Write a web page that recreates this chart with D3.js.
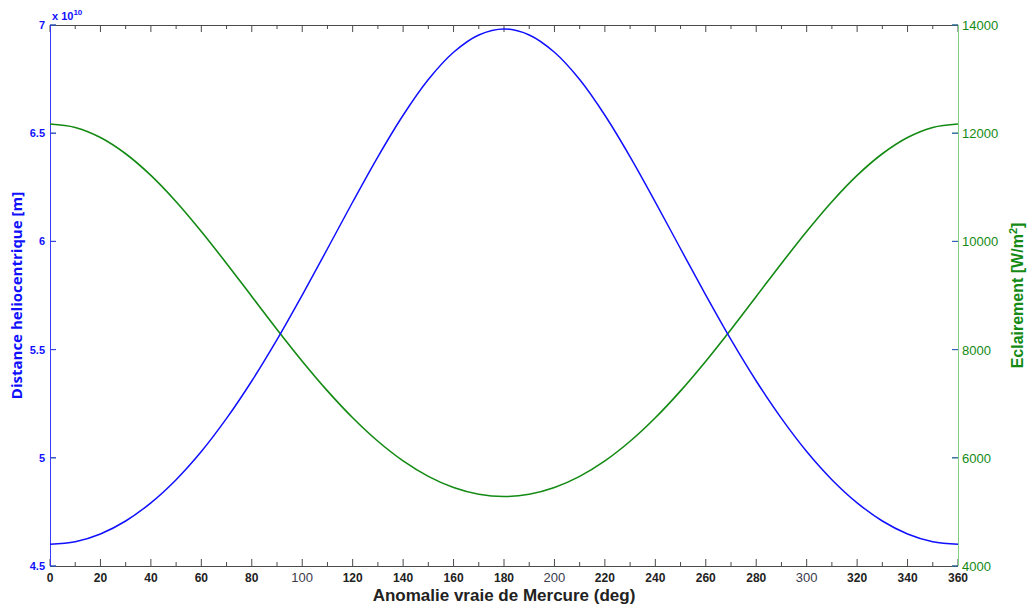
<!DOCTYPE html>
<html><head><meta charset="utf-8">
<script src="https://cdn.jsdelivr.net/npm/d3@7"></script>
<style>body{margin:0;background:#fff}svg{display:block}text{font-family:"Liberation Sans",Arial,sans-serif}</style>
</head><body><svg id="c" width="1027" height="607"></svg>
<script>
// True anomaly (deg)
const anomaly = [0,10,20,30,40,50,60,70,80,90,100,110,120,130,140,150,160,170,180,
  190,200,210,220,230,240,250,260,270,280,290,300,310,320,330,340,350,360];
// Heliocentric distance (x 1e10 m)
const distance = [4.600,4.612,4.648,4.708,4.792,4.899,5.029,5.182,5.355,5.546,5.752,5.966,6.182,6.391,6.583,6.748,6.874,6.954,6.982,
  6.954,6.874,6.748,6.583,6.391,6.182,5.966,5.752,5.546,5.355,5.182,5.029,4.899,4.792,4.708,4.648,4.612,4.600];
// Irradiance (W/m^2)
const irradiance = [12170,12107,11921,11620,11219,10733,10183,9592,8982,8373,7786,7237,6740,6306,5943,5657,5450,5326,5284,
  5326,5450,5657,5943,6306,6740,7237,7786,8373,8982,9592,10183,10733,11219,11620,11921,12107,12170];
const xTicks = d3.range(0, 361, 20);
const xMinor = d3.range(10, 360, 20);
const leftTicks = [4.5,5,5.5,6,6.5,7];
const rightTicks = [4000,6000,8000,10000,12000,14000];

const L=50,R=958,T=25,B=566;
const svg=d3.select("#c");
const x=d3.scaleLinear().domain([0,360]).range([L,R]);
const yL=d3.scaleLinear().domain([4.5,7]).range([B,T]);
const yR=d3.scaleLinear().domain([4000,14000]).range([B,T]);
const axisCol="#4a4a4a", blue="#1010ff", green="#138a13";

// x ticks bottom and top (inward)
const g=svg.append("g");
xTicks.forEach(v=>{
  g.append("line").attr("x1",x(v)).attr("x2",x(v)).attr("y1",B).attr("y2",B-7).attr("stroke",axisCol);
  g.append("line").attr("x1",x(v)).attr("x2",x(v)).attr("y1",T).attr("y2",T+7).attr("stroke",axisCol);
});
xMinor.forEach(v=>{
  g.append("line").attr("x1",x(v)).attr("x2",x(v)).attr("y1",B).attr("y2",B-4).attr("stroke",axisCol);
  g.append("line").attr("x1",x(v)).attr("x2",x(v)).attr("y1",T).attr("y2",T+4).attr("stroke",axisCol);
});
g.append("line").attr("x1",L).attr("x2",R).attr("y1",B+0.5).attr("y2",B+0.5).attr("stroke",axisCol);
g.append("line").attr("x1",L).attr("x2",R).attr("y1",T+0.5).attr("y2",T+0.5).attr("stroke",axisCol);

// x tick labels
xTicks.forEach(v=>{
  const plain = (v===100||v===200||v===300);
  g.append("text").attr("x",x(v)).attr("y",B+16).attr("text-anchor","middle")
   .attr("font-size",plain?13:12).attr("font-weight",plain?"normal":"bold")
   .attr("fill",plain?"#3a3a4a":"#222").text(v);
});

// right axis (green)
g.append("line").attr("x1",R+0.5).attr("x2",R+0.5).attr("y1",T).attr("y2",B).attr("stroke","#7fd07f");
rightTicks.forEach(v=>{
  g.append("line").attr("x1",R).attr("x2",R-6).attr("y1",yR(v)).attr("y2",yR(v)).attr("stroke",green);
  g.append("line").attr("x1",L).attr("x2",L+6).attr("y1",yR(v)).attr("y2",yR(v)).attr("stroke",green);
  g.append("text").attr("x",R+4).attr("y",yR(v)+5).attr("font-size",13).attr("fill",green).text(v);
});

// left axis (blue)
g.append("line").attr("x1",L+0.5).attr("x2",L+0.5).attr("y1",T).attr("y2",B).attr("stroke","#3a3aff");
leftTicks.forEach(v=>{
  g.append("line").attr("x1",L).attr("x2",L+6).attr("y1",yL(v)).attr("y2",yL(v)).attr("stroke","#3a3aff");
  g.append("line").attr("x1",R).attr("x2",R-6).attr("y1",yL(v)).attr("y2",yL(v)).attr("stroke","#3a5ad0");
  g.append("text").attr("x",L-5).attr("y",yL(v)+4).attr("text-anchor","end").attr("font-size",11)
   .attr("font-weight","bold").attr("fill",blue).text(v);
});
const ex=g.append("text").attr("x",L+2).attr("y",T-5).attr("font-size",11).attr("font-weight","bold").attr("fill",blue);
ex.append("tspan").text("x 10");
ex.append("tspan").attr("dy",-5).attr("font-size",8).text("10");

// lines
const lineL=d3.line().x((d,i)=>x(anomaly[i])).y(d=>yL(d)).curve(d3.curveCatmullRom);
const lineR=d3.line().x((d,i)=>x(anomaly[i])).y(d=>yR(d)).curve(d3.curveCatmullRom);
svg.append("path").attr("d",lineR(irradiance)).attr("fill","none").attr("stroke",green).attr("stroke-width",1.6);
svg.append("path").attr("d",lineL(distance)).attr("fill","none").attr("stroke",blue).attr("stroke-width",1.5);

// axis titles
svg.append("text").attr("x",(L+R)/2).attr("y",601).attr("text-anchor","middle").attr("font-size",17)
  .attr("font-weight","bold").attr("fill","#222").text("Anomalie vraie de Mercure (deg)");
svg.append("text").attr("transform",`translate(22,${(T+B)/2}) rotate(-90)`).attr("text-anchor","middle")
  .attr("font-size",15).attr("font-weight","bold").attr("fill",blue).style("font-family","'Open Sans',sans-serif")
  .text("Distance heliocentrique [m]");
const rt=svg.append("text").attr("transform",`translate(1023,${(T+B)/2}) rotate(-90)`).attr("text-anchor","middle")
  .attr("font-size",16).attr("font-weight","bold").attr("fill",green);
rt.append("tspan").text("Eclairement [W/m");
rt.append("tspan").attr("dy",-6).attr("font-size",11).text("2");
rt.append("tspan").attr("dy",6).text("]");
</script></body></html>
